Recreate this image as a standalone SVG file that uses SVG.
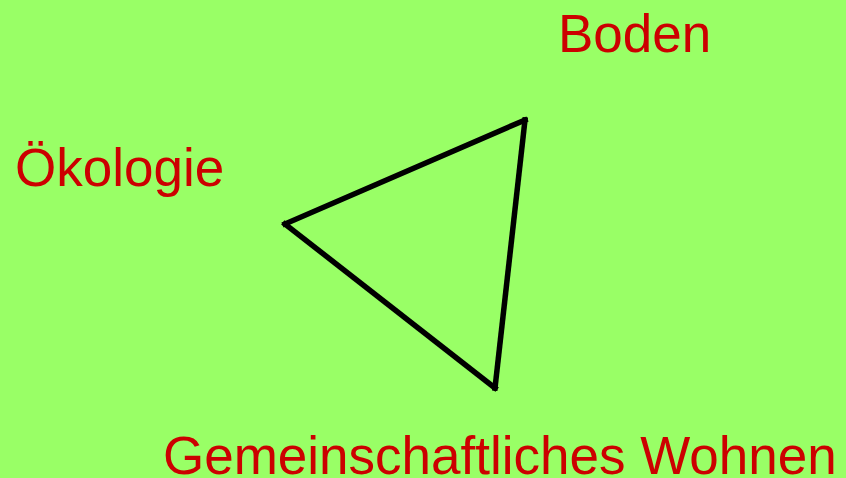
<svg xmlns="http://www.w3.org/2000/svg" width="846" height="478" viewBox="0 0 846 478">
<style>
.lbl{font-family:"Liberation Sans",Arial,sans-serif;font-size:53px;fill:#cc0000}
.edge{stroke:#000;stroke-width:5.5;fill:none;stroke-linecap:square}
</style>
<rect width="846" height="478" fill="#99ff66"/>
<g id="connectors">
<line class="edge" x1="285" y1="224" x2="525" y2="120"/>
<line class="edge" x1="525" y1="120" x2="495" y2="388"/>
<line class="edge" x1="495" y1="388" x2="285" y2="224"/>
</g>
<g id="boden"><text class="lbl" x="558" y="52">Boden</text></g>
<g id="oekologie"><text class="lbl" x="15" y="186">Ökologie</text></g>
<g id="wohnen"><text class="lbl" x="163" y="474">Gemeinschaftliches Wohnen</text></g>
</svg>
